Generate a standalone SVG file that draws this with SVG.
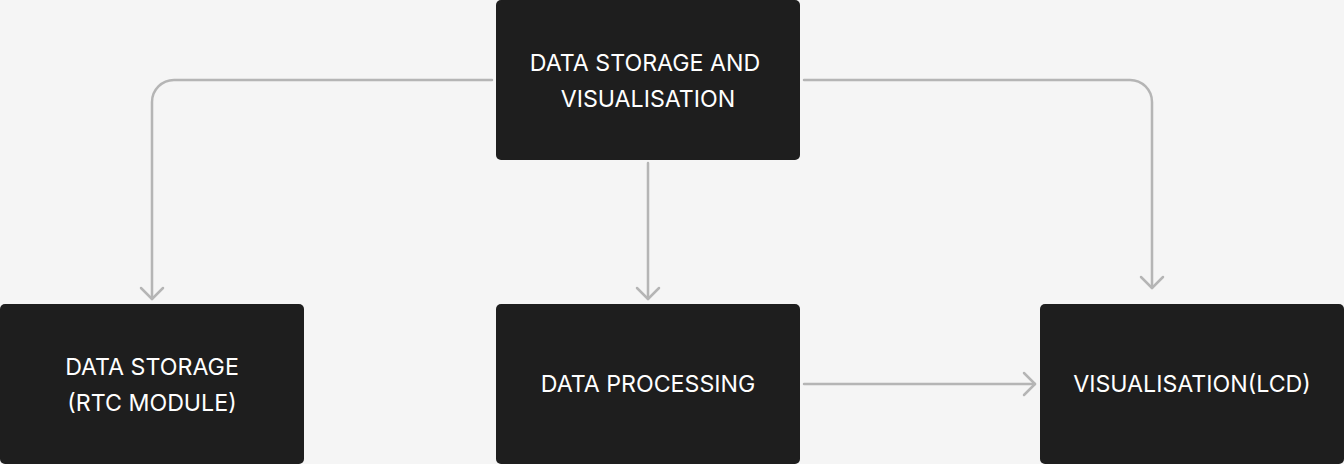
<svg xmlns="http://www.w3.org/2000/svg" width="1344" height="464" viewBox="0 0 1344 464">
<style>
.box{fill:#1e1e1e}
.lbl{fill:#ffffff;font-family:Inter,"Noto Sans",sans-serif;font-size:23.2px;text-anchor:middle}
.conn{fill:none;stroke:#b5b5b5;stroke-width:2.5;stroke-linecap:round;stroke-linejoin:round}
</style>
<rect width="1344" height="464" fill="#f5f5f5"/>
<g id="connectors">
<path class="conn" d="M492 80 H174 A22 22 0 0 0 152 102 V299"/>
<path class="conn" d="M141 288 L152 299 L163 288"/>
<path class="conn" d="M804 80 H1130 A22 22 0 0 1 1152 102 V288"/>
<path class="conn" d="M1141 277 L1152 288 L1163 277"/>
<path class="conn" d="M648 163 V299"/>
<path class="conn" d="M637 288 L648 299 L659 288"/>
<path class="conn" d="M804 384 H1035"/>
<path class="conn" d="M1024 373 L1035 384 L1024 395"/>
</g>
<g id="node-top">
<rect class="box" x="496" y="0" width="304" height="160" rx="5"/>
<text class="lbl" x="645" y="71">DATA STORAGE AND</text>
<text class="lbl" x="648" y="107">VISUALISATION</text>
</g>
<g id="node-storage">
<rect class="box" x="0" y="304" width="304" height="160" rx="5"/>
<text class="lbl" x="152" y="375">DATA STORAGE</text>
<text class="lbl" x="152" y="411">(RTC MODULE)</text>
</g>
<g id="node-processing">
<rect class="box" x="496" y="304" width="304" height="160" rx="5"/>
<text class="lbl" x="648" y="392">DATA PROCESSING</text>
</g>
<g id="node-visualisation">
<rect class="box" x="1040" y="304" width="304" height="160" rx="5"/>
<text class="lbl" x="1192" y="392">VISUALISATION(LCD)</text>
</g>
</svg>
